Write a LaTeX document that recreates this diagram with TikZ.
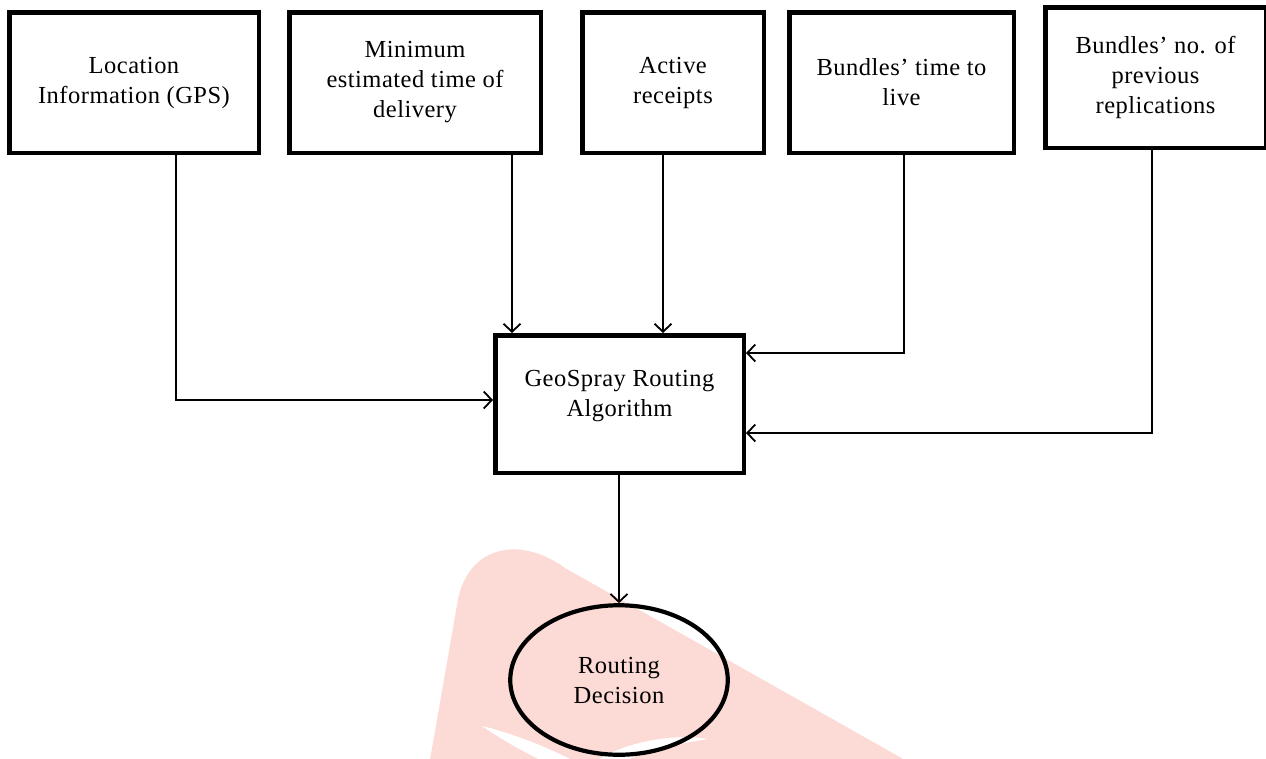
\documentclass[tikz,border=0pt]{standalone}
\usepackage{fontspec}
\setmainfont{Liberation Serif}[LetterSpace=2]
\usetikzlibrary{shapes.geometric,arrows.meta}
\definecolor{wmpink}{RGB}{252,218,213}
\tikzset{
  txt/.style={font={\fontsize{24.5}{30}\selectfont}, align=center},
  inbox/.style={draw, line width=4.5pt, rectangle, inner sep=0pt, txt},
  decision/.style={draw, line width=4.2pt, ellipse, inner sep=0pt, txt},
  conn/.style={line width=1.8pt, -{Straight Barb[length=8pt,width=17pt,line width=1.8pt]}}
}
\begin{document}
\begin{tikzpicture}[x=1pt,y=-1pt]
\useasboundingbox (0,0) rectangle (1266,758);
% watermark
\fill[wmpink] (430,760) -- (457,605) .. controls (466,545) and (520,535) .. (565,568) -- (905,760) -- cycle;
\fill[white] (482,726) .. controls (505,742) and (525,752) .. (540,760) -- (572,760) .. controls (545,746) and (508,732) .. cycle;
\fill[white] (598,760) .. controls (625,742) and (675,733) .. (708,739) .. controls (676,744) and (640,752) .. (628,760) -- cycle;
% input boxes
\node[inbox, minimum width=249.5pt, minimum height=140.5pt] (b1) at (134,82.5) {Location\\Information (GPS)};
\node[inbox, minimum width=251.5pt, minimum height=140.5pt] (b2) at (415,82.5) {Minimum\\estimated time of\\delivery};
\node[inbox, minimum width=181.5pt, minimum height=140.5pt] (b3) at (673,82.5) {Active\\receipts};
\node[inbox, minimum width=224.5pt, minimum height=140.5pt] (b4) at (901.5,82.5) {Bundles' time to\\live};
\node[inbox, minimum width=220.5pt, minimum height=140.5pt] (b5) at (1155.5,77.5) {Bundles' no. of\\previous\\replications};
% algorithm box
\node[inbox, minimum width=248.5pt, minimum height=137.5pt] (c) at (619.5,404) {};
\node[txt] (ct) at (619.5,396) {GeoSpray Routing\\Algorithm};
% decision
\node[decision, minimum width=217.5pt, minimum height=149.5pt] (d) at (619,680) {Routing\\Decision};
% connectors
\draw[conn] ([xshift=42pt]b1.south) |- ([yshift=4pt]c.west);
\draw[conn] ([xshift=97pt]b2.south) -- ([xshift=97pt]b2.south |- c.north);
\draw[conn] ([xshift=-10pt]b3.south) -- ([xshift=-10pt]b3.south |- c.north);
\draw[conn] ([xshift=2.5pt]b4.south) |- ([yshift=51pt]c.east);
\draw[conn] ([xshift=-3.5pt]b5.south) |- ([yshift=-29pt]c.east);
\draw[conn] ([xshift=-0.5pt]c.south) -- (d.north);
\end{tikzpicture}
\end{document}
